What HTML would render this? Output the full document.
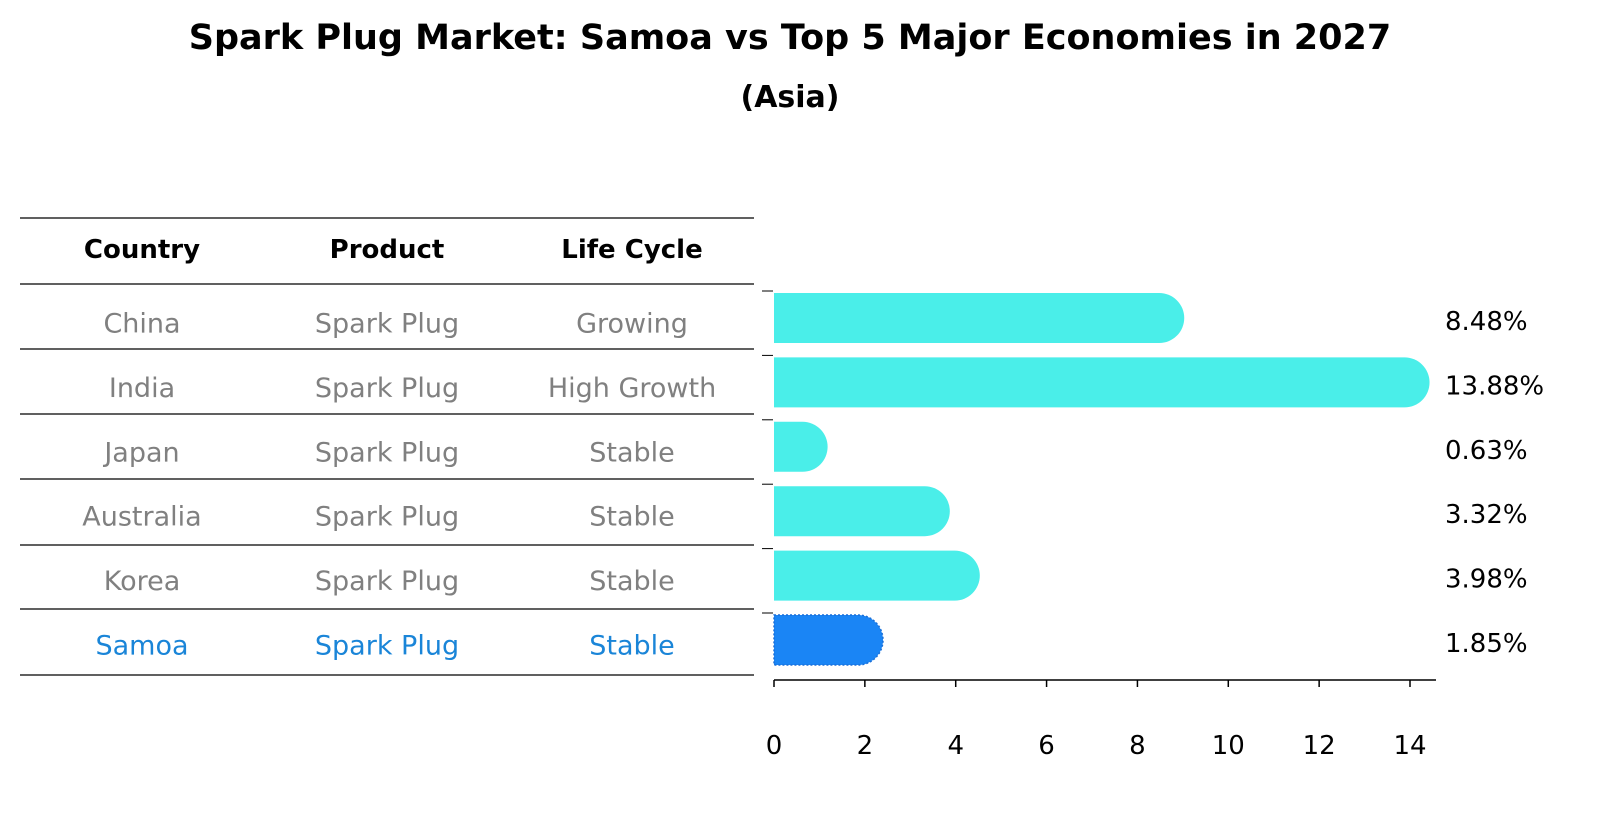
<!DOCTYPE html>
<html><head><meta charset="utf-8"><style>
body{margin:0;background:#fff;font-family:"Liberation Sans","DejaVu Sans",sans-serif}
#wrap{position:relative;width:1604px;height:823px;overflow:hidden}
svg text{font-family:"DejaVu Sans","Liberation Sans",sans-serif}
</style></head><body>
<div id="wrap">
<svg id="svg" width="1604" height="823">
<text x="790" y="49" text-anchor="middle" font-size="35" font-weight="bold">Spark Plug Market: Samoa vs Top 5 Major Economies in 2027</text>
<text x="790" y="107" text-anchor="middle" font-size="30" font-weight="bold">(Asia)</text>
<g id="table"></g>
<g id="bars"></g>
</svg>
</div>
<script>
const countries=["China","India","Japan","Australia","Korea","Samoa"];
const products=["Spark Plug","Spark Plug","Spark Plug","Spark Plug","Spark Plug","Spark Plug"];
const lifecycles=["Growing","High Growth","Stable","Stable","Stable","Stable"];
const values=[8.48,13.88,0.63,3.32,3.98,1.85];
const xTicks=[0,2,4,6,8,10,12,14];
const NS="http://www.w3.org/2000/svg";
function mk(tag,attrs,parent,text){const e=document.createElementNS(NS,tag);for(const k in attrs)e.setAttribute(k,attrs[k]);if(text!==undefined)e.textContent=text;parent.appendChild(e);return e;}
const tbl=document.getElementById('table');
const bars=document.getElementById('bars');
const rowY=i=>318+i*64.4;
const colX=[142,387,632];
const lineYs=[218,284,349,414,479,545,609,675];
lineYs.forEach((y,i)=>{const l=mk('line',{x1:20,x2:754,y1:y,y2:y,stroke:'#000','stroke-width':1.2},tbl);

});
["Country","Product","Life Cycle"].forEach((h,j)=>{const t=mk('text',{x:colX[j],y:258,'text-anchor':'middle','font-size':26,'font-weight':'bold'},tbl,h);

});
countries.forEach((c,i)=>{const col=c==="Samoa"?'#1a85d8':'#808080';
[c,products[i],lifecycles[i]].forEach((v,j)=>{const t=mk('text',{x:colX[j],y:rowY(i)+7,'text-anchor':'middle','font-size':27,fill:col,'dominant-baseline':'middle'},tbl,v);

});});
const x0=774,scale=(1410-774)/14;
const xs=v=>x0+v*scale;
const ax=mk('line',{x1:774,x2:1436,y1:680,y2:680,stroke:'#000','stroke-width':1.5},bars);


xTicks.forEach(t=>{const l=mk('line',{x1:xs(t),x2:xs(t),y1:680,y2:687,stroke:'#000','stroke-width':1.5},bars);


const tx=mk('text',{x:xs(t),y:754,'text-anchor':'middle','font-size':26},bars,String(t));

});
const h=50,r=25;
values.forEach((v,i)=>{const cy=rowY(i),top=cy-h/2,xe=xs(v);
const samoa=countries[i]==="Samoa";
const d=`M${x0},${top} H${xe} A${r},${r} 0 0 1 ${xe},${top+h} H${x0} Z`;
const p=mk('path',{d:d,fill:samoa?'#1a85f5':'#4aeee9',stroke:samoa?'#1a6fd8':'none','stroke-width':samoa?1.5:0,'stroke-dasharray':samoa?'2 2':''},bars);


const tk=mk('line',{x1:762,x2:773,y1:top-2,y2:top-2,stroke:'#000','stroke-width':1},bars);


const lb=mk('text',{x:1445,y:cy+12,'font-size':26},bars,v.toFixed(2)+'%');

});
</script>
</body></html>
